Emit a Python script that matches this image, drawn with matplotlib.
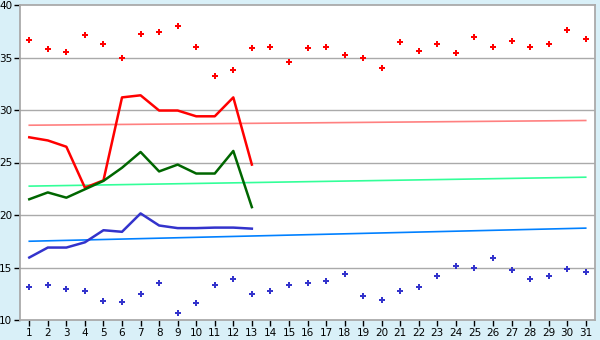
import numpy as np
import matplotlib.pyplot as plt

days = list(range(1, 32))

# daily extremes (dots)
max_temp = [36.7, 35.8, 35.5, 37.1, 36.25, 35.0, 37.2, 37.4, 38.0, 36.0,
            33.2, 33.8, 35.9, 36.0, 34.6, 35.9, 36.0, 35.2, 35.0, 34.0,
            36.45, 35.6, 36.25, 35.4, 37.0, 36.0, 36.6, 36.0, 36.25, 37.6, 36.8]
min_temp = [13.1, 13.3, 13.0, 12.8, 11.8, 11.7, 12.45, 13.5, 10.65, 11.6,
            13.3, 13.95, 12.45, 12.8, 13.3, 13.5, 13.7, 14.35, 12.25, 11.95,
            12.8, 13.1, 14.15, 15.1, 15.0, 15.9, 14.75, 13.9, 14.15, 14.9, 14.55]

# current month lines (first 13 days)
line_days = list(range(1, 14))
line_max = [27.4, 27.1, 26.5, 22.6, 23.3, 31.2, 31.4, 29.95, 29.95, 29.4, 29.4, 31.2, 24.8]
line_avg = [21.5, 22.15, 21.65, 22.45, 23.25, 24.5, 26.0, 24.15, 24.8, 23.95, 23.95, 26.1, 20.75]
line_min = [15.95, 16.9, 16.9, 17.4, 18.55, 18.4, 20.15, 19.0, 18.75, 18.75, 18.8, 18.8, 18.7]

# long-term normals (start / end of month)
norm_max = [28.55, 29.0]
norm_avg = [22.75, 23.6]
norm_min = [17.5, 18.75]

fig = plt.figure(figsize=(6, 3.4), dpi=100)
fig.patch.set_facecolor('#D9F0F8')
ax = fig.add_axes([20 / 600, 20 / 340, 575 / 600, 315 / 340])
ax.set_facecolor('white')

for y in range(15, 40, 5):
    ax.axhline(y, color='#AAAAAA', lw=1.0, zorder=1)

ends = [1, 31]
ax.plot(ends, norm_max, color='#FF8080', lw=1.2, zorder=2)
ax.plot(ends, norm_avg, color='#33FF99', lw=1.2, zorder=2)
ax.plot(ends, norm_min, color='#0080FF', lw=1.2, zorder=2)

ax.plot(line_days, line_max, color='#FF0000', lw=1.8, zorder=3)
ax.plot(line_days, line_avg, color='#006600', lw=1.8, zorder=3)
ax.plot(line_days, line_min, color='#3333CC', lw=1.8, zorder=3)

ax.plot(days, max_temp, 'P', color='#FF0000', ms=5, mew=0, ls='none', zorder=4)
ax.plot(days, min_temp, 'P', color='#3333CC', ms=5, mew=0, ls='none', zorder=4)

ax.set_xlim(0.5, 31.5)
ax.set_ylim(10, 40)
ax.set_xticks(days)
ax.set_yticks(range(10, 41, 5))
ax.tick_params(direction='out', length=4, width=1, colors='black',
               labelsize=7.5, pad=1.5)
for s in ax.spines.values():
    s.set_color('#AAAAAA')
    s.set_linewidth(1.3)

plt.savefig('out.png', dpi=100, facecolor=fig.get_facecolor())
